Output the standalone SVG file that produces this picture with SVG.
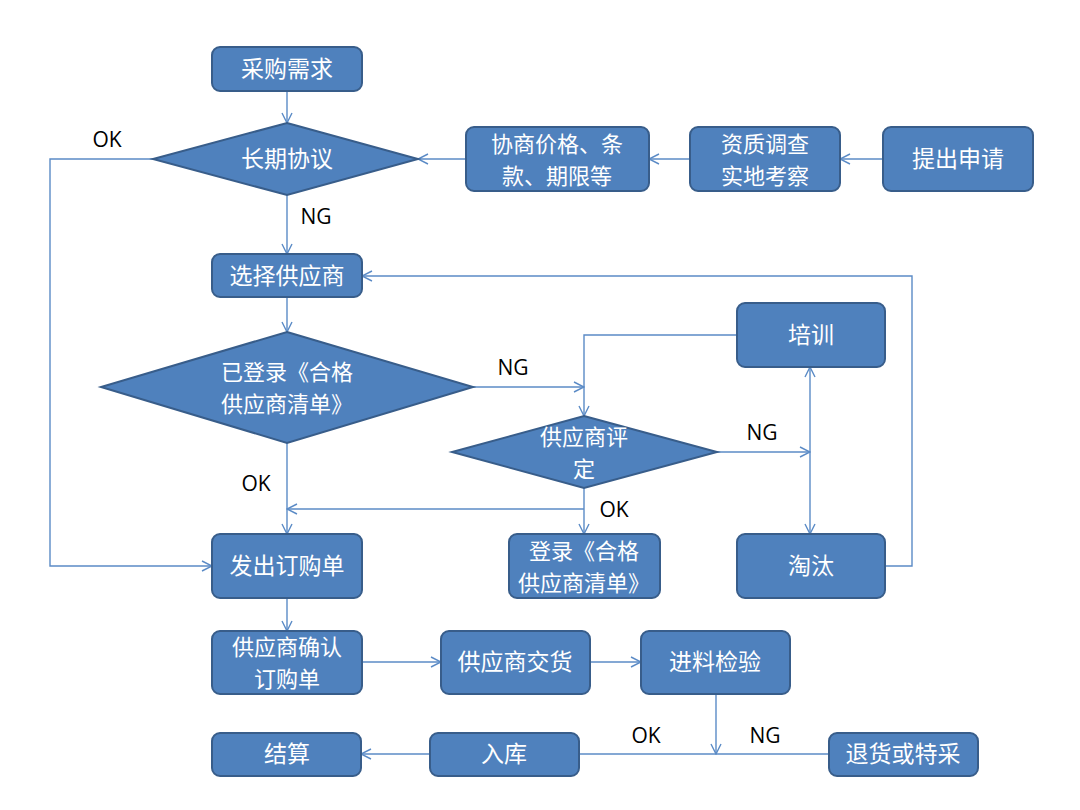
<svg xmlns="http://www.w3.org/2000/svg" width="1080" height="810" viewBox="0 0 1080 810">
<defs>
<style>
.box{fill:#4F81BD;stroke:#385D8A;stroke-width:2}
.t{fill:#fff;font-family:"Noto Sans CJK SC","Noto Sans",sans-serif;font-size:23px;text-anchor:middle;dominant-baseline:central}
.t2{font-size:22px}
.lbl{fill:#000;font-family:"Open Sans","Liberation Sans",sans-serif;font-size:21px;text-anchor:middle;dominant-baseline:central}
.c{fill:none;stroke:#5B8BC6;stroke-width:1.4}
</style>
<marker id="a" viewBox="0 0 12 12" refX="11" refY="6" markerWidth="12" markerHeight="12" markerUnits="userSpaceOnUse" orient="auto">
<path d="M1,1 L11,6 L1,11" fill="none" stroke="#5B8BC6" stroke-width="1.4"/>
</marker>
</defs>
<rect width="1080" height="810" fill="#fff"/>
<g id="connectors">
<path class="c" d="M287,91 V123" marker-end="url(#a)"/>
<path class="c" d="M287,195 V254" marker-end="url(#a)"/>
<path class="c" d="M466,159 H418" marker-end="url(#a)"/>
<path class="c" d="M690,159 H649" marker-end="url(#a)"/>
<path class="c" d="M883,159 H840" marker-end="url(#a)"/>
<path class="c" d="M153,159 H50 V566 H212" marker-end="url(#a)"/>
<path class="c" d="M287,297 V332" marker-end="url(#a)"/>
<path class="c" d="M287,443 V534" marker-end="url(#a)"/>
<path class="c" d="M473,387 H584" marker-end="url(#a)"/>
<path class="c" d="M737,335 H584 V416" marker-end="url(#a)"/>
<path class="c" d="M717,452 H810" marker-end="url(#a)"/>
<path class="c" d="M810,452 V367" marker-end="url(#a)"/>
<path class="c" d="M810,452 V534" marker-end="url(#a)"/>
<path class="c" d="M584,488 V534" marker-end="url(#a)"/>
<path class="c" d="M584,509 H287" marker-end="url(#a)"/>
<path class="c" d="M885,566 H912 V276 H362" marker-end="url(#a)"/>
<path class="c" d="M287,598 V631" marker-end="url(#a)"/>
<path class="c" d="M362,662 H441" marker-end="url(#a)"/>
<path class="c" d="M590,662 H641" marker-end="url(#a)"/>
<path class="c" d="M716,694 V754" marker-end="url(#a)"/>
<path class="c" d="M579,754 H829"/>
<path class="c" d="M430,754 H361" marker-end="url(#a)"/>
</g>
<g id="labels">
<text class="lbl" x="107" y="139">OK</text>
<text class="lbl" x="316" y="216">NG</text>
<text class="lbl" x="513" y="367">NG</text>
<text class="lbl" x="256" y="483">OK</text>
<text class="lbl" x="762" y="432">NG</text>
<text class="lbl" x="614" y="509">OK</text>
<text class="lbl" x="646" y="735">OK</text>
<text class="lbl" x="765" y="735">NG</text>
</g>
<g id="n1"><rect class="box" x="212" y="47" width="150" height="44" rx="8"/><text class="t" x="287" y="67">采购需求</text></g>
<g id="n2"><polygon class="box" points="287,123 418,159 287,195 153,159"/><text class="t" x="287" y="157">长期协议</text></g>
<g id="n3"><rect class="box" x="466" y="127" width="183" height="64" rx="8"/><text class="t t2"><tspan x="557" y="141.5">协商价格、条</tspan><tspan x="557" y="173.5">款、期限等</tspan></text></g>
<g id="n4"><rect class="box" x="690" y="127" width="150" height="64" rx="8"/><text class="t t2"><tspan x="765" y="141.5">资质调查</tspan><tspan x="765" y="173.5">实地考察</tspan></text></g>
<g id="n5"><rect class="box" x="883" y="127" width="150" height="64" rx="8"/><text class="t" x="958" y="157">提出申请</text></g>
<g id="n6"><rect class="box" x="212" y="254" width="150" height="43" rx="8"/><text class="t" x="287" y="274">选择供应商</text></g>
<g id="n7"><polygon class="box" points="287,332 473,387 287,443 101,387"/><text class="t t2"><tspan x="287" y="369.5">已登录《合格</tspan><tspan x="287" y="401.5">供应商清单》</tspan></text></g>
<g id="n8"><rect class="box" x="737" y="303" width="148" height="64" rx="8"/><text class="t" x="811" y="333">培训</text></g>
<g id="n9"><polygon class="box" points="584,416 717,452 584,488 452,452"/><text class="t t2"><tspan x="584" y="434.5">供应商评</tspan><tspan x="584" y="466.5">定</tspan></text></g>
<g id="n10"><rect class="box" x="509" y="534" width="151" height="64" rx="8"/><text class="t t2"><tspan x="584" y="548.5">登录《合格</tspan><tspan x="584" y="580.5">供应商清单》</tspan></text></g>
<g id="n11"><rect class="box" x="737" y="534" width="148" height="64" rx="8"/><text class="t" x="811" y="564">淘汰</text></g>
<g id="n12"><rect class="box" x="212" y="534" width="150" height="64" rx="8"/><text class="t" x="287" y="564">发出订购单</text></g>
<g id="n13"><rect class="box" x="212" y="631" width="150" height="63" rx="8"/><text class="t t2"><tspan x="287" y="644.5">供应商确认</tspan><tspan x="287" y="676.5">订购单</tspan></text></g>
<g id="n14"><rect class="box" x="441" y="631" width="149" height="63" rx="8"/><text class="t" x="515" y="660">供应商交货</text></g>
<g id="n15"><rect class="box" x="641" y="631" width="149" height="63" rx="8"/><text class="t" x="715" y="660">进料检验</text></g>
<g id="n16"><rect class="box" x="212" y="733" width="149" height="43" rx="8"/><text class="t" x="287" y="752">结算</text></g>
<g id="n17"><rect class="box" x="430" y="733" width="149" height="43" rx="8"/><text class="t" x="504" y="752">入库</text></g>
<g id="n18"><rect class="box" x="829" y="733" width="149" height="43" rx="8"/><text class="t" x="903" y="752">退货或特采</text></g>
</svg>
